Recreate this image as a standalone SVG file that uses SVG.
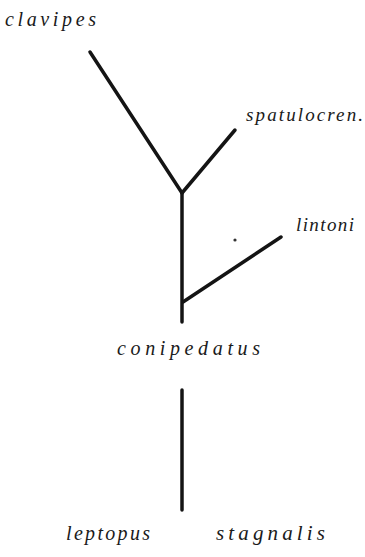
<svg xmlns="http://www.w3.org/2000/svg" width="365" height="557" viewBox="0 0 365 557">
<style>
.lbl{font-family:"Liberation Serif",serif;font-style:italic;fill:#1a1a1a}
.br{stroke:#141414;stroke-width:3.5;stroke-linecap:round;fill:none}
</style>
<rect width="365" height="557" fill="#fff"/>
<g id="connectors">
<line class="br" x1="90" y1="52" x2="182" y2="193"/>
<line class="br" x1="182" y1="193" x2="235" y2="130"/>
<line class="br" x1="182" y1="193" x2="182" y2="322"/>
<line class="br" x1="183" y1="302" x2="281" y2="237"/>
<line class="br" x1="182" y1="390" x2="182" y2="510"/>
</g>
<circle cx="235" cy="240" r="1.6" fill="#333"/>
<g id="clavipes"><text class="lbl" x="5" y="26" font-size="20" textLength="91" lengthAdjust="spacing">clavipes</text></g>
<g id="spatulocren"><text class="lbl" x="246" y="121" font-size="19" textLength="117" lengthAdjust="spacing">spatulocren.</text></g>
<g id="lintoni"><text class="lbl" x="296" y="231" font-size="19" textLength="58" lengthAdjust="spacing">lintoni</text></g>
<g id="conipedatus"><text class="lbl" x="117" y="355" font-size="20" textLength="143" lengthAdjust="spacing">conipedatus</text></g>
<g id="leptopus"><text class="lbl" x="66" y="540" font-size="20" textLength="84" lengthAdjust="spacing">leptopus</text></g>
<g id="stagnalis"><text class="lbl" x="216" y="540" font-size="21" textLength="109" lengthAdjust="spacing">stagnalis</text></g>
</svg>
